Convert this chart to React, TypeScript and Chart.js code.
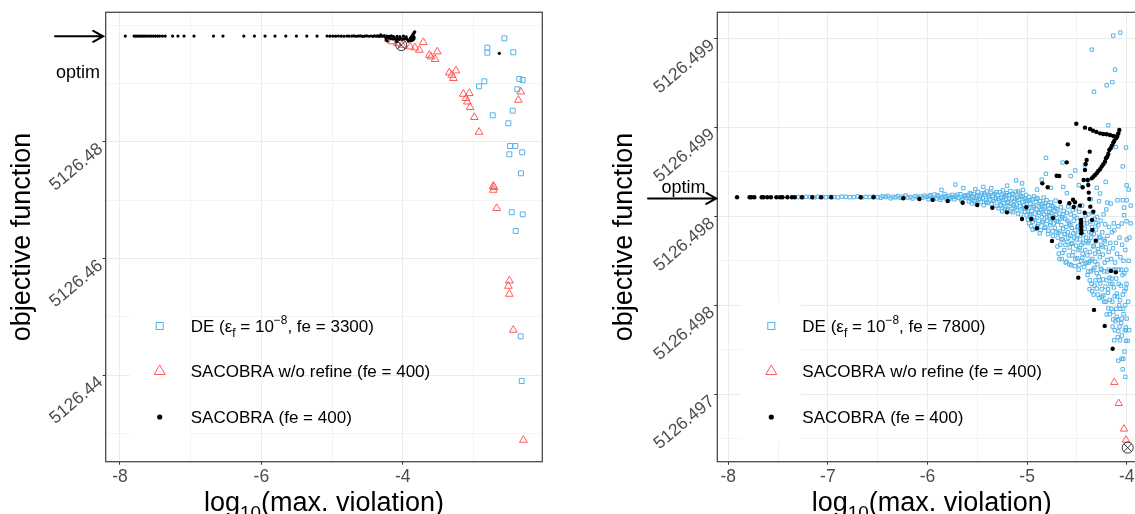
import React, { useEffect, useRef } from 'react';
import { Chart, registerables } from 'chart.js';

Chart.register(...registerables);

const FONT = '"Liberation Sans", Arial, Helvetica, sans-serif';
const BLUE = '#56B4E9';
const RED = '#FF5A5A';
const TICK_GREY = '#4D4D4D';
const OPTIM = 5126.4981;

// ---------------- left panel (DE fe = 3300) ----------------
const xTicksLeft = [-8, -6, -4];
const xTickLabelsLeft = ['-8', '-6', '-4'];
const xMinorLeft = [-7, -5, -3];
const yTicksLeft = [5126.44, 5126.46, 5126.48];
const yTickLabelsLeft = ['5126.44', '5126.46', '5126.48'];
const yMinorLeft = [5126.43, 5126.45, 5126.47, 5126.49, 5126.5];

const deLeft: [number, number][] = [
  [-2.562, 5126.49777], [-2.802, 5126.49616], [-2.802, 5126.4953], [-2.435, 5126.49537],
  [-2.92, 5126.48953], [-2.845, 5126.49039], [-2.35, 5126.49079], [-2.302, 5126.49062],
  [-2.378, 5126.48902], [-2.443, 5126.48535], [-2.726, 5126.48456], [-2.505, 5126.48319],
  [-2.481, 5126.47929], [-2.406, 5126.47929], [-2.491, 5126.47787], [-2.309, 5126.47821],
  [-2.326, 5126.47461], [-2.457, 5126.46792], [-2.302, 5126.46757], [-2.401, 5126.46471],
  [-2.33, 5126.44664], [-2.316, 5126.43897],
];

const noRefineLeft: [number, number][] = [
  [-4.151, 5126.49722], [-4.08, 5126.49696], [-4.01, 5126.49662], [-3.896, 5126.49633],
  [-3.826, 5126.49616], [-3.765, 5126.49576], [-3.708, 5126.49708], [-3.623, 5126.4949],
  [-3.599, 5126.49461], [-3.542, 5126.49417], [-3.51, 5126.49547], [-3.34, 5126.49187],
  [-3.306, 5126.49147], [-3.283, 5126.49091], [-3.246, 5126.49221], [-3.142, 5126.48821],
  [-3.104, 5126.48748], [-3.086, 5126.48689], [-3.057, 5126.48833], [-3.047, 5126.48593],
  [-2.987, 5126.48422], [-2.92, 5126.48169], [-2.364, 5126.48718], [-2.33, 5126.48861],
  [-2.718, 5126.47243], [-2.708, 5126.47221], [-2.718, 5126.47174], [-2.67, 5126.4686],
  [-2.491, 5126.45618], [-2.505, 5126.45527], [-2.491, 5126.4539], [-2.435, 5126.44772],
  [-2.293, 5126.42885],
];

const sacobraLeft: [number, number][] = [
  [-7.925, 5126.49815], [-7.8, 5126.49815], [-7.775, 5126.49815], [-7.75, 5126.49815],
  [-7.725, 5126.49815], [-7.7, 5126.49815], [-7.675, 5126.49815], [-7.65, 5126.49815],
  [-7.62, 5126.49815], [-7.59, 5126.49815], [-7.56, 5126.49815], [-7.53, 5126.49815],
  [-7.5, 5126.49815], [-7.47, 5126.49815], [-7.44, 5126.49815], [-7.4, 5126.49815],
  [-7.36, 5126.49815], [-7.256, 5126.49815], [-7.18, 5126.49815], [-7.094, 5126.49815],
  [-6.953, 5126.49815], [-6.677, 5126.49815], [-6.543, 5126.49815], [-6.248, 5126.49815],
  [-6.098, 5126.49815], [-5.948, 5126.49815], [-5.807, 5126.49815], [-5.654, 5126.49815],
  [-5.504, 5126.49815], [-5.357, 5126.49815], [-5.212, 5126.49815],
  [-5.07, 5126.49816], [-5.03, 5126.49814], [-4.99, 5126.49815], [-4.95, 5126.49813],
  [-4.91, 5126.49816], [-4.87, 5126.49814], [-4.83, 5126.49812], [-4.79, 5126.49816],
  [-4.76, 5126.49813], [-4.72, 5126.49815], [-4.69, 5126.49818], [-4.66, 5126.49812],
  [-4.63, 5126.49815], [-4.6, 5126.49817], [-4.57, 5126.49811], [-4.54, 5126.49814],
  [-4.51, 5126.49819], [-4.48, 5126.49812], [-4.45, 5126.49816], [-4.42, 5126.4981],
  [-4.4, 5126.49818], [-4.37, 5126.49813], [-4.35, 5126.4982], [-4.33, 5126.49809],
  [-4.31, 5126.49835], [-4.3, 5126.49816], [-4.28, 5126.49812], [-4.26, 5126.49822],
  [-4.24, 5126.4979], [-4.236, 5126.49748], [-4.22, 5126.49815], [-4.218, 5126.49731],
  [-4.2, 5126.49778], [-4.19, 5126.4981], [-4.17, 5126.49772], [-4.16, 5126.49818],
  [-4.14, 5126.49765], [-4.13, 5126.49806], [-4.11, 5126.49775], [-4.1, 5126.4976],
  [-4.083, 5126.49719], [-4.08, 5126.49812], [-4.07, 5126.4977], [-4.05, 5126.49758],
  [-4.04, 5126.49805], [-4.02, 5126.49772], [-4.01, 5126.4976], [-3.99, 5126.49815],
  [-3.98, 5126.49768], [-3.96, 5126.49775], [-3.95, 5126.49802], [-3.94, 5126.49762],
  [-3.92, 5126.4973], [-3.91, 5126.49745], [-3.9, 5126.4976], [-3.89, 5126.4978],
  [-3.88, 5126.49795], [-3.87, 5126.49812], [-3.86, 5126.4983], [-3.85, 5126.4985],
  [-3.84, 5126.4987], [-3.83, 5126.49888], [-3.86, 5126.49745], [-3.85, 5126.4976],
  [-3.84, 5126.49775], [-3.88, 5126.49735], [-3.84, 5126.498], [-2.633, 5126.4952],
];

const bestLeft: [number, number][] = [[-4.02, 5126.4966]];

// ---------------- right panel (DE fe = 7800) ----------------
const xTicksRight = [-8, -7, -6, -5, -4];
const xTickLabelsRight = ['-8', '-7', '-6', '-5', '-4'];
const xMinorRight = [-7.5, -6.5, -5.5, -4.5];
const yTicksRight = [5126.497, 5126.4975, 5126.498, 5126.4985, 5126.499];
const yTickLabelsRight = ['5126.497', '5126.498', '5126.498', '5126.499', '5126.499'];
const yMinorRight = [5126.49675, 5126.49725, 5126.49775, 5126.49825, 5126.49875];

const deRight: [number, number][] = [
  [-7.3, 5126.498108], [-7.26, 5126.498107], [-7.22, 5126.498109], [-7.18, 5126.498108],
  [-7.14, 5126.498106], [-7.1, 5126.49811], [-7.06, 5126.498108], [-7.02, 5126.498107],
  [-6.98, 5126.498109], [-6.94, 5126.498108], [-6.9, 5126.498106], [-6.86, 5126.49811],
  [-6.82, 5126.498109], [-6.78, 5126.498107], [-6.74, 5126.498108], [-6.7, 5126.498111],
  [-6.66, 5126.498106], [-6.62, 5126.498109], [-6.58, 5126.498108], [-6.54, 5126.49811],
  [-6.5, 5126.498107],
  [-6.47, 5126.498104], [-6.45, 5126.498112], [-6.42, 5126.498108], [-6.4, 5126.498115],
  [-6.37, 5126.498101], [-6.35, 5126.498109], [-6.32, 5126.498106], [-6.3, 5126.498113],
  [-6.27, 5126.498103], [-6.25, 5126.49811], [-6.22, 5126.498117], [-6.2, 5126.498105],
  [-6.17, 5126.498108], [-6.15, 5126.4981], [-6.12, 5126.498114], [-6.1, 5126.498107],
  [-6.07, 5126.498111], [-6.05, 5126.498104], [-6.03, 5126.498116], [-6.01, 5126.498109],
  [-5.99, 5126.498096], [-5.97, 5126.498118], [-5.95, 5126.498104], [-5.93, 5126.498122],
  [-5.91, 5126.4981], [-5.89, 5126.498112], [-5.87, 5126.498093], [-5.85, 5126.498108],
  [-5.83, 5126.498125], [-5.81, 5126.498099], [-5.79, 5126.498115], [-5.77, 5126.498106],
  [-5.75, 5126.49812], [-5.73, 5126.498095], [-5.71, 5126.49811], [-5.69, 5126.498103],
  [-5.67, 5126.498124], [-5.65, 5126.498098], [-5.63, 5126.498113], [-5.61, 5126.498105],
  [-5.72, 5126.498178], [-5.86, 5126.498148], [-5.64, 5126.498158],
  [-5.98, 5126.498112], [-5.94, 5126.498098], [-5.9, 5126.498119], [-5.86, 5126.498102],
  [-5.82, 5126.498111], [-5.78, 5126.498096], [-5.74, 5126.498108], [-5.7, 5126.498121],
  [-5.66, 5126.49809], [-5.62, 5126.498117], [-5.58, 5126.498102], [-5.56, 5126.498125],
  [-5.54, 5126.498085], [-5.5, 5126.498112], [-5.47, 5126.498098], [-5.43, 5126.49813],
  [-5.41, 5126.49808], [-5.38, 5126.498118], [-5.34, 5126.498094], [-5.31, 5126.498135],
  [-5.595, 5126.498118], [-5.585, 5126.498084], [-5.575, 5126.498131], [-5.565, 5126.498097],
  [-5.555, 5126.498072], [-5.545, 5126.49811], [-5.535, 5126.498125], [-5.525, 5126.498088],
  [-5.515, 5126.498103], [-5.505, 5126.498066], [-5.495, 5126.498137], [-5.485, 5126.498094],
  [-5.475, 5126.498115], [-5.465, 5126.498079], [-5.455, 5126.498128], [-5.445, 5126.498101],
  [-5.435, 5126.498062], [-5.425, 5126.49812], [-5.415, 5126.49809], [-5.405, 5126.49814],
  [-5.395, 5126.498075], [-5.385, 5126.498108], [-5.375, 5126.498095], [-5.365, 5126.498132],
  [-5.355, 5126.498068], [-5.345, 5126.498115], [-5.335, 5126.498085], [-5.325, 5126.498125],
  [-5.315, 5126.4981], [-5.305, 5126.498058], [-5.52, 5126.498152], [-5.44, 5126.498165],
  [-5.36, 5126.498158],
  [-5.295, 5126.49812], [-5.288, 5126.498045], [-5.28, 5126.498088], [-5.272, 5126.498135],
  [-5.265, 5126.498062], [-5.258, 5126.498104], [-5.25, 5126.498028], [-5.242, 5126.498146],
  [-5.235, 5126.498076], [-5.228, 5126.498112], [-5.22, 5126.49805], [-5.212, 5126.498095],
  [-5.205, 5126.49813], [-5.198, 5126.498035], [-5.19, 5126.498082], [-5.182, 5126.498118],
  [-5.175, 5126.498058], [-5.168, 5126.498142], [-5.16, 5126.49807], [-5.152, 5126.4981],
  [-5.145, 5126.498022], [-5.138, 5126.498125], [-5.13, 5126.498086], [-5.122, 5126.498048],
  [-5.115, 5126.498138], [-5.108, 5126.498066], [-5.1, 5126.498105], [-5.092, 5126.498015],
  [-5.085, 5126.498092], [-5.078, 5126.498128], [-5.07, 5126.498055], [-5.062, 5126.498115],
  [-5.055, 5126.49804], [-5.048, 5126.49808], [-5.04, 5126.498148], [-5.032, 5126.498062],
  [-5.025, 5126.498098], [-5.018, 5126.498025], [-5.01, 5126.49812], [-5.003, 5126.49807],
  [-5.11, 5126.498201], [-5.2, 5126.498172], [-5.05, 5126.498185],
  [-5.29, 5126.498098], [-5.27, 5126.49806], [-5.255, 5126.498122], [-5.24, 5126.49809],
  [-5.225, 5126.49804], [-5.21, 5126.498118], [-5.195, 5126.498075], [-5.18, 5126.4981],
  [-5.165, 5126.49803], [-5.15, 5126.498125], [-5.135, 5126.49806], [-5.12, 5126.498098],
  [-5.105, 5126.498035], [-5.09, 5126.49814], [-5.075, 5126.498075], [-5.06, 5126.49801],
  [-5.045, 5126.49811], [-5.03, 5126.498045], [-5.015, 5126.498085], [-5.005, 5126.498005],
  [-4.996, 5126.49809], [-4.99, 5126.49798], [-4.984, 5126.498045], [-4.978, 5126.498108],
  [-4.972, 5126.498005], [-4.966, 5126.49807], [-4.96, 5126.497945], [-4.954, 5126.49803],
  [-4.948, 5126.498095], [-4.942, 5126.49797], [-4.936, 5126.49806], [-4.93, 5126.498112],
  [-4.924, 5126.498015], [-4.918, 5126.49793], [-4.912, 5126.49808], [-4.906, 5126.49804],
  [-4.9, 5126.49799], [-4.894, 5126.4981], [-4.888, 5126.497955], [-4.882, 5126.498055],
  [-4.876, 5126.49802], [-4.87, 5126.498085], [-4.864, 5126.497922], [-4.858, 5126.498035],
  [-4.852, 5126.497995], [-4.846, 5126.498072], [-4.84, 5126.497965], [-4.834, 5126.498105],
  [-4.828, 5126.49801], [-4.822, 5126.49805], [-4.816, 5126.49794], [-4.81, 5126.498025],
  [-4.804, 5126.49809], [-4.798, 5126.497975], [-4.792, 5126.498062], [-4.786, 5126.49792],
  [-4.78, 5126.498], [-4.774, 5126.498042], [-4.768, 5126.49795], [-4.762, 5126.498078],
  [-4.756, 5126.498018], [-4.75, 5126.497985], [-4.744, 5126.497915], [-4.738, 5126.498055],
  [-4.732, 5126.49796], [-4.726, 5126.49803], [-4.72, 5126.497935], [-4.714, 5126.498088],
  [-4.708, 5126.498008], [-4.702, 5126.497972], [-4.81, 5126.498328], [-4.853, 5126.498206],
  [-4.811, 5126.498239], [-4.9, 5126.49815], [-4.76, 5126.49816],
  [-4.993, 5126.49803], [-4.981, 5126.49796], [-4.969, 5126.49809], [-4.957, 5126.49801],
  [-4.945, 5126.497925], [-4.933, 5126.49805], [-4.921, 5126.49798], [-4.909, 5126.4981],
  [-4.897, 5126.497945], [-4.885, 5126.49802], [-4.873, 5126.497905], [-4.861, 5126.498065],
  [-4.849, 5126.49797], [-4.837, 5126.49804], [-4.825, 5126.497935], [-4.813, 5126.498075],
  [-4.801, 5126.497995], [-4.789, 5126.4979], [-4.777, 5126.498025], [-4.765, 5126.497965],
  [-4.753, 5126.49806], [-4.741, 5126.49789], [-4.729, 5126.497995], [-4.717, 5126.498045],
  [-4.705, 5126.49791],
  [-4.697, 5126.49804], [-4.692, 5126.49788], [-4.687, 5126.49797], [-4.682, 5126.49779],
  [-4.677, 5126.498015], [-4.672, 5126.497915], [-4.667, 5126.49784], [-4.662, 5126.49805],
  [-4.657, 5126.49795], [-4.652, 5126.49776], [-4.647, 5126.497995], [-4.642, 5126.49787],
  [-4.637, 5126.49793], [-4.632, 5126.49803], [-4.627, 5126.49781], [-4.622, 5126.4979],
  [-4.617, 5126.497985], [-4.612, 5126.49774], [-4.607, 5126.49794], [-4.602, 5126.49802],
  [-4.597, 5126.497855], [-4.592, 5126.49791], [-4.587, 5126.498055], [-4.582, 5126.49778],
  [-4.577, 5126.49796], [-4.572, 5126.497825], [-4.567, 5126.49789], [-4.562, 5126.49801],
  [-4.557, 5126.497725], [-4.552, 5126.497935], [-4.547, 5126.49785], [-4.542, 5126.498035],
  [-4.537, 5126.4978], [-4.532, 5126.497975], [-4.527, 5126.49788], [-4.522, 5126.49772],
  [-4.517, 5126.49792], [-4.512, 5126.498045], [-4.507, 5126.497835], [-4.502, 5126.49799],
  [-4.497, 5126.497765], [-4.492, 5126.497895], [-4.487, 5126.497945], [-4.482, 5126.4977],
  [-4.477, 5126.498025], [-4.472, 5126.49782], [-4.467, 5126.49787], [-4.462, 5126.497965],
  [-4.457, 5126.49775], [-4.452, 5126.49791], [-4.447, 5126.49806], [-4.442, 5126.49779],
  [-4.437, 5126.49785], [-4.432, 5126.49798], [-4.427, 5126.497715], [-4.422, 5126.49793],
  [-4.417, 5126.49781], [-4.412, 5126.498005], [-4.407, 5126.49788], [-4.402, 5126.49774],
  [-4.643, 5126.498302], [-4.637, 5126.498165], [-4.562, 5126.498226], [-4.516, 5126.498257],
  [-4.6, 5126.49813], [-4.48, 5126.498175], [-4.42, 5126.498287], [-4.389, 5126.498202],
  [-4.695, 5126.49783], [-4.685, 5126.497905], [-4.675, 5126.49776], [-4.665, 5126.497985],
  [-4.655, 5126.49787], [-4.645, 5126.497795], [-4.635, 5126.49801], [-4.625, 5126.4979],
  [-4.615, 5126.49784], [-4.605, 5126.497745], [-4.595, 5126.497975], [-4.585, 5126.49788],
  [-4.575, 5126.49773], [-4.565, 5126.49795], [-4.555, 5126.497845], [-4.545, 5126.49778],
  [-4.535, 5126.497905], [-4.525, 5126.498], [-4.515, 5126.49776], [-4.505, 5126.49787],
  [-4.495, 5126.49794], [-4.485, 5126.49781], [-4.475, 5126.497725], [-4.465, 5126.49792],
  [-4.455, 5126.49784], [-4.445, 5126.497765], [-4.435, 5126.497895], [-4.425, 5126.49796],
  [-4.415, 5126.497735], [-4.405, 5126.49786],
  [-4.397, 5126.49796], [-4.393, 5126.49767], [-4.389, 5126.49785], [-4.385, 5126.49801],
  [-4.381, 5126.49774], [-4.377, 5126.49791], [-4.373, 5126.49759], [-4.369, 5126.4978],
  [-4.365, 5126.49797], [-4.361, 5126.49769], [-4.357, 5126.49788], [-4.353, 5126.49762],
  [-4.349, 5126.49794], [-4.345, 5126.49776], [-4.341, 5126.49802], [-4.337, 5126.49783],
  [-4.333, 5126.49756], [-4.329, 5126.4979], [-4.325, 5126.49771], [-4.321, 5126.497985],
  [-4.317, 5126.49779], [-4.313, 5126.49764], [-4.309, 5126.497925], [-4.305, 5126.49786],
  [-4.301, 5126.497594], [-4.297, 5126.497996], [-4.293, 5126.49773], [-4.289, 5126.497815],
  [-4.285, 5126.49795], [-4.281, 5126.49766], [-4.277, 5126.497885], [-4.273, 5126.49754],
  [-4.269, 5126.49777], [-4.265, 5126.497622], [-4.261, 5126.497975], [-4.257, 5126.49784],
  [-4.253, 5126.4977], [-4.249, 5126.497547], [-4.245, 5126.49791], [-4.241, 5126.497785],
  [-4.237, 5126.497645], [-4.233, 5126.49801], [-4.229, 5126.49787], [-4.225, 5126.49752],
  [-4.221, 5126.49774], [-4.217, 5126.497955], [-4.213, 5126.497605], [-4.209, 5126.497825],
  [-4.205, 5126.498038], [-4.201, 5126.497448], [-4.197, 5126.49769], [-4.193, 5126.49789],
  [-4.189, 5126.49757], [-4.185, 5126.497482], [-4.181, 5126.4978], [-4.177, 5126.49794],
  [-4.173, 5126.497655], [-4.169, 5126.49753], [-4.165, 5126.49785], [-4.161, 5126.498071],
  [-4.351, 5126.498936], [-4.328, 5126.4987], [-4.268, 5126.498128], [-4.278, 5126.498084],
  [-4.195, 5126.498077], [-4.211, 5126.498193], [-4.201, 5126.498736], [-4.185, 5126.498511],
  [-4.3, 5126.49816], [-4.36, 5126.498095],
  [-4.395, 5126.49778], [-4.387, 5126.49769], [-4.379, 5126.49786], [-4.371, 5126.49764],
  [-4.363, 5126.49775], [-4.355, 5126.497905], [-4.347, 5126.49758], [-4.339, 5126.4977],
  [-4.331, 5126.497835], [-4.323, 5126.49761], [-4.315, 5126.497745], [-4.307, 5126.49796],
  [-4.299, 5126.49768], [-4.291, 5126.49756], [-4.283, 5126.4978], [-4.275, 5126.49764],
  [-4.267, 5126.49788], [-4.259, 5126.497705], [-4.251, 5126.49759], [-4.243, 5126.49783],
  [-4.235, 5126.497555], [-4.227, 5126.49769], [-4.219, 5126.49786], [-4.211, 5126.49752],
  [-4.203, 5126.49764], [-4.195, 5126.497755], [-4.187, 5126.49759], [-4.179, 5126.4977],
  [-4.171, 5126.49745], [-4.163, 5126.49762],
  [-4.157, 5126.49776], [-4.153, 5126.49748], [-4.149, 5126.49791], [-4.145, 5126.49762],
  [-4.141, 5126.49738], [-4.137, 5126.49782], [-4.135, 5126.497462], [-4.133, 5126.4977],
  [-4.129, 5126.49796], [-4.125, 5126.497303], [-4.125, 5126.497921], [-4.121, 5126.49755],
  [-4.117, 5126.49774], [-4.113, 5126.49741], [-4.109, 5126.49785], [-4.105, 5126.49765],
  [-4.1, 5126.497435], [-4.1, 5126.497566], [-4.097, 5126.49779], [-4.093, 5126.49809],
  [-4.089, 5126.49732], [-4.084, 5126.497354], [-4.084, 5126.497944], [-4.08, 5126.4977],
  [-4.076, 5126.4975], [-4.072, 5126.49788], [-4.067, 5126.497303], [-4.067, 5126.497528],
  [-4.063, 5126.49777], [-4.059, 5126.49761], [-4.055, 5126.4974], [-4.05, 5126.497425],
  [-4.05, 5126.497959], [-4.046, 5126.49784], [-4.042, 5126.49767], [-4.04, 5126.49809],
  [-4.036, 5126.49748], [-4.032, 5126.49775], [-4.027, 5126.498049], [-4.027, 5126.498006],
  [-4.023, 5126.49758], [-4.019, 5126.49736], [-4.014, 5126.49781], [-4.01, 5126.497375],
  [-4.007, 5126.497594], [-4.007, 5126.4973], [-4.004, 5126.4977], [-4.001, 5126.497972],
  [-4.001, 5126.498174], [-4.0, 5126.497869], [-4.0, 5126.49809], [-4.0, 5126.497425],
  [-4.152, 5126.49765], [-4.144, 5126.49752], [-4.136, 5126.49742], [-4.128, 5126.4976],
  [-4.12, 5126.49736], [-4.112, 5126.4977], [-4.104, 5126.49748], [-4.096, 5126.49755],
  [-4.088, 5126.49742], [-4.08, 5126.49762], [-4.072, 5126.49738], [-4.064, 5126.49748],
  [-4.056, 5126.4977], [-4.048, 5126.49733], [-4.04, 5126.49756], [-4.032, 5126.49745],
  [-4.024, 5126.49768], [-4.016, 5126.4975], [-4.008, 5126.49736], [-4.002, 5126.49762],
  [-4.05, 5126.497199], [-4.034, 5126.497199], [-4.084, 5126.497189], [-4.014, 5126.497098],
  [-4.022, 5126.49724], [-4.04, 5126.49714], [-3.99, 5126.4973], [-3.985, 5126.49752],
  [-3.98, 5126.49775], [-3.975, 5126.49736], [-3.972, 5126.49788],
  [-4.135, 5126.499015], [-4.064, 5126.499032], [-4.117, 5126.498824], [-4.145, 5126.498754],
  [-4.007, 5126.498386], [-4.11, 5126.498389], [-4.04, 5126.49828], [-3.98, 5126.49815],
  [-3.96, 5126.49806], [-3.96, 5126.49796],
];

const noRefineRight: [number, number][] = [
  [-4.125, 5126.497067], [-4.08, 5126.496949], [-4.027, 5126.496805], [-4.007, 5126.496743],
];

const sacobraRight: [number, number][] = [
  [-7.912, 5126.498107], [-7.786, 5126.498107], [-7.768, 5126.498107], [-7.739, 5126.498107],
  [-7.665, 5126.498107], [-7.647, 5126.498107], [-7.609, 5126.498107], [-7.572, 5126.498107],
  [-7.517, 5126.498107], [-7.481, 5126.498107], [-7.456, 5126.498107], [-7.407, 5126.498107],
  [-7.362, 5126.498107], [-7.333, 5126.498107], [-7.26, 5126.498107], [-7.157, 5126.498107],
  [-7.069, 5126.498107], [-6.966, 5126.498107], [-6.671, 5126.498107], [-6.542, 5126.498107],
  [-6.243, 5126.498101], [-6.082, 5126.498097], [-5.948, 5126.498092], [-5.797, 5126.498086],
  [-5.647, 5126.498076], [-5.5, 5126.498063], [-5.349, 5126.498048], [-5.202, 5126.498022],
  [-5.051, 5126.497985], [-5.008, 5126.498051], [-4.958, 5126.497985], [-4.901, 5126.497933],
  [-4.847, 5126.498185], [-4.793, 5126.498163], [-4.75, 5126.497861], [-4.74, 5126.49799],
  [-4.703, 5126.498228], [-4.677, 5126.498226], [-4.67, 5126.49808], [-4.602, 5126.498303],
  [-4.592, 5126.498404], [-4.576, 5126.498073], [-4.539, 5126.498093], [-4.519, 5126.498079],
  [-4.532, 5126.498052], [-4.506, 5126.49852], [-4.469, 5126.49806], [-4.459, 5126.497979],
  [-4.458, 5126.497961], [-4.457, 5126.497942], [-4.456, 5126.497923], [-4.455, 5126.497904],
  [-4.442, 5126.498163], [-4.432, 5126.498204], [-4.419, 5126.498498], [-4.422, 5126.49802],
  [-4.419, 5126.49826], [-4.412, 5126.498294], [-4.402, 5126.498316], [-4.392, 5126.498204],
  [-4.386, 5126.498176], [-4.381, 5126.498133], [-4.376, 5126.498097], [-4.368, 5126.49849],
  [-4.365, 5126.498054], [-4.371, 5126.498363], [-4.348, 5126.497979], [-4.345, 5126.497923],
  [-4.335, 5126.498026],
  [-4.338, 5126.498481], [-4.305, 5126.498474], [-4.268, 5126.498466], [-4.235, 5126.498462],
  [-4.201, 5126.498461], [-4.168, 5126.498457], [-4.135, 5126.498451], [-4.1, 5126.498447],
  [-4.351, 5126.498213], [-4.335, 5126.498222], [-4.318, 5126.498232], [-4.301, 5126.498242],
  [-4.285, 5126.498254], [-4.268, 5126.498264], [-4.251, 5126.498279], [-4.235, 5126.498292],
  [-4.218, 5126.498307], [-4.208, 5126.498326], [-4.195, 5126.498335], [-4.185, 5126.49835],
  [-4.175, 5126.498372], [-4.161, 5126.498382], [-4.148, 5126.498397], [-4.135, 5126.498413],
  [-4.125, 5126.498423], [-4.107, 5126.498438], [-4.094, 5126.498451], [-4.084, 5126.498466],
  [-4.074, 5126.498485],
  [-4.486, 5126.497655], [-4.158, 5126.497693], [-4.11, 5126.497685], [-4.328, 5126.497474],
  [-4.221, 5126.497384], [-4.141, 5126.497256], [-4.311, 5126.497863],
];

const bestRight: [number, number][] = [[-3.99, 5126.4967]];

// ---------------- drawing helpers ----------------
type Seg = { t: string; k?: 'sub' | 'sup' };
type LegendRow = { key: 'square' | 'triangle' | 'dot'; segs: Seg[] };

const legendLeft: LegendRow[] = [
  { key: 'square', segs: [{ t: 'DE (ε' }, { t: 'f', k: 'sub' }, { t: ' = 10' }, { t: '−8', k: 'sup' }, { t: ', fe = 3300)' }] },
  { key: 'triangle', segs: [{ t: 'SACOBRA w/o refine (fe = 400)' }] },
  { key: 'dot', segs: [{ t: 'SACOBRA (fe = 400)' }] },
];
const legendRight: LegendRow[] = [
  { key: 'square', segs: [{ t: 'DE (ε' }, { t: 'f', k: 'sub' }, { t: ' = 10' }, { t: '−8', k: 'sup' }, { t: ', fe = 7800)' }] },
  { key: 'triangle', segs: [{ t: 'SACOBRA w/o refine (fe = 400)' }] },
  { key: 'dot', segs: [{ t: 'SACOBRA (fe = 400)' }] },
];

function drawRich(ctx: CanvasRenderingContext2D, x: number, y: number, segs: Seg[], size: number, align: 'left' | 'center') {
  const fontOf = (s: Seg) => `${s.k ? size * 0.7 : size}px ${FONT}`;
  let total = 0;
  for (const s of segs) {
    ctx.font = fontOf(s);
    total += ctx.measureText(s.t).width;
  }
  let cx = align === 'center' ? x - total / 2 : x;
  ctx.textAlign = 'left';
  ctx.textBaseline = 'alphabetic';
  for (const s of segs) {
    ctx.font = fontOf(s);
    const dy = s.k === 'sub' ? size * 0.3 : s.k === 'sup' ? -size * 0.45 : 0;
    ctx.fillText(s.t, cx, y + dy);
    cx += ctx.measureText(s.t).width;
  }
}

type PanelSpec = {
  width: number;
  padding: { left: number; right: number; top: number; bottom: number };
  yAxisWidth: number;
  xAxisHeight: number;
  xRange: [number, number];
  yRange: [number, number];
  xMajor: number[]; xLabels: string[]; xMinor: number[];
  yMajor: number[]; yLabels: string[]; yMinor: number[];
  de: [number, number][]; noRefine: [number, number][]; sacobra: [number, number][]; best: [number, number][];
  sqR: number; triR: number; dotR: number;
  legend: LegendRow[];
  arrowFrom: number; arrowTo: number; optimDx: number; optimDy: number;
  yTitleX: number;
};

function tickDefs(major: number[], labels: string[], minor: number[]) {
  const out = major.map((v, i) => ({ value: v, mj: true, lbl: labels[i] }));
  minor.forEach((v) => out.push({ value: v, mj: false, lbl: '' }));
  return out.sort((a, b) => a.value - b.value);
}

function axisOptions(pos: 'left' | 'bottom', range: [number, number], defs: any[], size: number, rot: number) {
  return {
    type: 'linear',
    position: pos,
    min: range[0],
    max: range[1],
    afterBuildTicks: (axis: any) => {
      axis.ticks = defs.map((d) => ({ ...d }));
    },
    afterFit: (axis: any) => {
      if (pos === 'left') axis.width = size; else axis.height = size;
      axis.paddingTop = 0; axis.paddingBottom = 0; axis.paddingLeft = 0; axis.paddingRight = 0;
    },
    border: { display: false },
    grid: {
      color: (c: any) => (c.tick && c.tick.mj ? '#EBEBEB' : '#F3F3F3'),
      lineWidth: 1,
      tickLength: 3,
      tickWidth: 1,
      tickColor: (c: any) => (c.tick && c.tick.mj ? '#333333' : 'rgba(0,0,0,0)'),
    },
    ticks: {
      autoSkip: false,
      padding: 2,
      minRotation: rot,
      maxRotation: rot,
      labelOffset: pos === 'left' ? 5 : 0,
      color: TICK_GREY,
      font: { family: FONT, size: 17.5 },
      callback: (_v: number, i: number, ticks: any[]) => ticks[i].lbl,
    },
  };
}

function drawKey(ctx: CanvasRenderingContext2D, key: string, x: number, y: number) {
  ctx.beginPath();
  if (key === 'square') {
    ctx.strokeStyle = BLUE; ctx.lineWidth = 1;
    ctx.strokeRect(x - 3.5, y - 3.5, 7, 7);
  } else if (key === 'triangle') {
    ctx.strokeStyle = RED; ctx.lineWidth = 1;
    ctx.moveTo(x, y - 6); ctx.lineTo(x + 5.5, y + 3.5); ctx.lineTo(x - 5.5, y + 3.5); ctx.closePath();
    ctx.stroke();
  } else {
    ctx.fillStyle = '#000';
    ctx.arc(x, y, 2.6, 0, Math.PI * 2);
    ctx.fill();
  }
}

function makeDecor(p: PanelSpec) {
  return {
    id: 'decor',
    afterDraw(chart: any) {
      const { ctx, chartArea: a, scales } = chart;
      ctx.save();

      // legend: white key cells, markers, labels
      const rows = [a.bottom - 135.7, a.bottom - 90.7, a.bottom - 44.7];
      ctx.fillStyle = '#FFFFFF';
      ctx.fillRect(a.left + 24, a.bottom - 158.5, 60, 137);
      p.legend.forEach((row, i) => {
        drawKey(ctx, row.key, a.left + 54, rows[i]);
        ctx.fillStyle = '#000';
        drawRich(ctx, a.left + 85, rows[i] + 6, row.segs, 17, 'left');
      });

      // panel border
      ctx.strokeStyle = '#4A4A4A';
      ctx.lineWidth = 1.3;
      ctx.strokeRect(a.left, a.top, a.right - a.left, a.bottom - a.top);

      // optimum marker arrow
      const yo = scales.y.getPixelForValue(OPTIM);
      const x0 = a.left - p.arrowFrom;
      const x1 = a.left - p.arrowTo;
      ctx.strokeStyle = '#000';
      ctx.lineWidth = 2;
      ctx.lineCap = 'round';
      ctx.beginPath();
      ctx.moveTo(x0, yo); ctx.lineTo(x1, yo);
      ctx.moveTo(x1 - 10, yo - 5.5); ctx.lineTo(x1, yo); ctx.lineTo(x1 - 10, yo + 5.5);
      ctx.stroke();
      ctx.fillStyle = '#000';
      ctx.font = `18px ${FONT}`;
      ctx.textAlign = 'center';
      ctx.textBaseline = 'middle';
      ctx.fillText('optim', a.left - p.optimDx, yo + p.optimDy);

      // axis titles
      ctx.fillStyle = '#000';
      drawRich(ctx, (a.left + a.right) / 2, 511, [{ t: 'log' }, { t: '10', k: 'sub' }, { t: '(max. violation)' }], 27, 'center');
      ctx.translate(p.yTitleX, (a.top + a.bottom) / 2);
      ctx.rotate(-Math.PI / 2);
      ctx.font = `27px ${FONT}`;
      ctx.textAlign = 'center';
      ctx.textBaseline = 'middle';
      ctx.fillText('objective function', 0, 0);
      ctx.restore();
    },
  };
}

function buildConfig(p: PanelSpec): any {
  const pts = (arr: [number, number][]) => arr.map(([x, y]) => ({ x, y }));
  const clear = 'rgba(0,0,0,0)';
  return {
    type: 'scatter',
    data: {
      datasets: [
        { data: pts(p.best), pointStyle: 'crossRot', pointRadius: 5.5, borderColor: '#222', backgroundColor: clear, borderWidth: 0.9 },
        { data: pts(p.best), pointStyle: 'circle', pointRadius: 5.5, borderColor: '#222', backgroundColor: clear, borderWidth: 0.9 },
        { data: pts(p.sacobra), pointStyle: 'circle', pointRadius: p.dotR, backgroundColor: '#000', borderColor: '#000', borderWidth: 0 },
        { data: pts(p.noRefine), pointStyle: 'triangle', pointRadius: p.triR, borderColor: RED, backgroundColor: clear, borderWidth: 1 },
        { data: pts(p.de), pointStyle: 'rect', pointRadius: p.sqR, borderColor: BLUE, backgroundColor: clear, borderWidth: 1 },
      ],
    },
    options: {
      responsive: false,
      animation: false,
      events: [],
      layout: { padding: p.padding },
      plugins: { legend: { display: false }, tooltip: { enabled: false } },
      scales: {
        x: axisOptions('bottom', p.xRange, tickDefs(p.xMajor, p.xLabels, p.xMinor), p.xAxisHeight, 0),
        y: axisOptions('left', p.yRange, tickDefs(p.yMajor, p.yLabels, p.yMinor), p.yAxisWidth, 40),
      },
    },
    plugins: [makeDecor(p)],
  };
}

const leftSpec: PanelSpec = {
  width: 560,
  padding: { left: 0, right: 17.7, top: 12.3, bottom: 0 },
  yAxisWidth: 105.7,
  xAxisHeight: 52.3,
  xRange: [-8.2023, -2.0247],
  yRange: [5126.42513, 5126.50223],
  xMajor: xTicksLeft, xLabels: xTickLabelsLeft, xMinor: xMinorLeft,
  yMajor: yTicksLeft, yLabels: yTickLabelsLeft, yMinor: yMinorLeft,
  de: deLeft, noRefine: noRefineLeft, sacobra: sacobraLeft, best: bestLeft,
  sqR: 3.5, triR: 4.5, dotR: 1.6,
  legend: legendLeft,
  arrowFrom: 50.7, arrowTo: 2.5, optimDx: 27.7, optimDy: 37,
  yTitleX: 23,
};

const rightSpec: PanelSpec = {
  width: 600,
  padding: { left: 0, right: 13.7, top: 12.3, bottom: 0 },
  yAxisWidth: 157.3,
  xAxisHeight: 52.3,
  xRange: [-8.1104, -3.8032],
  yRange: [5126.496621, 5126.499146],
  xMajor: xTicksRight, xLabels: xTickLabelsRight, xMinor: xMinorRight,
  yMajor: yTicksRight, yLabels: yTickLabelsRight, yMinor: yMinorRight,
  de: deRight, noRefine: noRefineRight, sacobra: sacobraRight, best: bestRight,
  sqR: 2.4, triR: 4.3, dotR: 2.2,
  legend: legendRight,
  arrowFrom: 69.3, arrowTo: 1, optimDx: 33.8, optimDy: -10,
  yTitleX: 65,
};

function Panel({ spec, left }: { spec: PanelSpec; left: number }) {
  const ref = useRef<HTMLCanvasElement | null>(null);
  useEffect(() => {
    if (!ref.current) return;
    const chart = new Chart(ref.current, buildConfig(spec));
    return () => chart.destroy();
  }, [spec]);
  return (
    <canvas
      ref={ref}
      width={spec.width}
      height={514}
      style={{ position: 'absolute', left, top: 0, width: spec.width, height: 514 }}
    />
  );
}

export default function App() {
  return (
    <div
      style={{
        position: 'fixed',
        left: 0,
        top: 0,
        width: 1135,
        height: 514,
        overflow: 'hidden',
        background: '#FFFFFF',
      }}
    >
      <Panel spec={leftSpec} left={0} />
      <Panel spec={rightSpec} left={560} />
    </div>
  );
}
